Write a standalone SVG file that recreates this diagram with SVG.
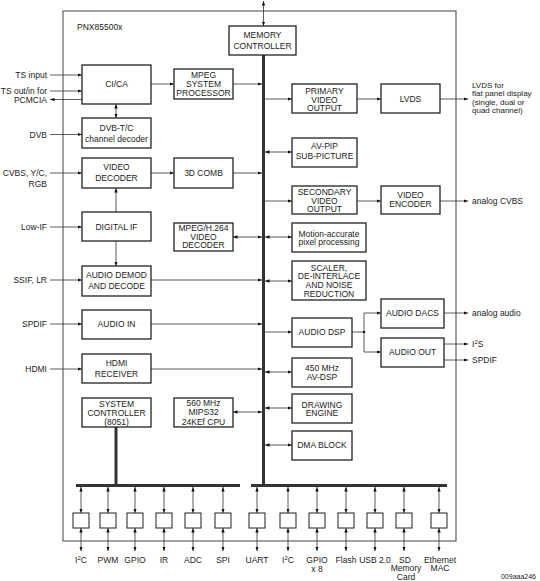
<svg xmlns="http://www.w3.org/2000/svg" width="540" height="581" viewBox="0 0 540 581">
<defs>
<marker id="ah" viewBox="0 0 8 6" refX="8" refY="3" markerWidth="4.5" markerHeight="3.4" markerUnits="userSpaceOnUse" orient="auto-start-reverse"><path d="M0,0 L8,3 L0,6 z" fill="#111"/></marker>
<style>
text{font-family:"Liberation Sans",Arial,sans-serif;font-size:8.5px;fill:#222}
.c{text-anchor:middle}
.e{text-anchor:end}
.b{fill:#fff;stroke:#222;stroke-width:1.3}
.pb{fill:#fff;stroke:#333;stroke-width:1.1}
.l{stroke:#333;stroke-width:0.8;fill:none}
.a{stroke:#333;stroke-width:0.8;fill:none;marker-end:url(#ah)}
.d{stroke:#333;stroke-width:0.8;fill:none;marker-start:url(#ah);marker-end:url(#ah)}
.bus{stroke:#333;stroke-width:3;fill:none}
</style>
</defs>
<rect x="63" y="11" width="393" height="530" fill="none" stroke="#555" stroke-width="1.1"/>
<text x="77" y="30">PNX85500x</text>

<g id="connectors">
<line class="d" x1="263.5" y1="1" x2="263.5" y2="26"/>
<line class="bus" x1="263.5" y1="55" x2="263.5" y2="487"/>
<line class="bus" x1="76" y1="485.5" x2="240" y2="485.5"/>
<line class="bus" x1="251" y1="485.5" x2="447" y2="485.5"/>
<line class="bus" x1="116" y1="427" x2="116" y2="485"/>
<!-- left inputs -->
<line class="a" x1="50" y1="75" x2="82" y2="75"/>
<line class="a" x1="50" y1="91" x2="82" y2="91"/>
<line class="a" x1="82" y1="99.5" x2="50" y2="99.5"/>
<line class="a" x1="50" y1="134.5" x2="82" y2="134.5"/>
<line class="a" x1="50" y1="173" x2="82" y2="173"/>
<line class="a" x1="50" y1="227" x2="82" y2="227"/>
<line class="a" x1="50" y1="280" x2="82" y2="280"/>
<line class="a" x1="50" y1="324" x2="82" y2="324"/>
<line class="a" x1="50" y1="369" x2="82" y2="369"/>
<!-- left internal -->
<line class="a" x1="151" y1="84" x2="174" y2="84"/>
<line class="a" x1="233" y1="84" x2="262" y2="84"/>
<line class="d" x1="116" y1="104" x2="116" y2="118"/>
<line class="a" x1="151" y1="173" x2="174" y2="173"/>
<line class="a" x1="233" y1="173" x2="262" y2="173"/>
<line class="a" x1="116" y1="212" x2="116" y2="188"/>
<line class="a" x1="116" y1="241" x2="116" y2="266"/>
<line class="d" x1="233" y1="237" x2="262" y2="237"/>
<line class="a" x1="151" y1="280" x2="262" y2="280"/>
<line class="a" x1="151" y1="324" x2="262" y2="324"/>
<line class="a" x1="151" y1="369" x2="262" y2="369"/>
<line class="d" x1="233" y1="412" x2="262" y2="412"/>
<!-- right -->
<line class="a" x1="265" y1="99" x2="292" y2="99"/>
<line class="a" x1="357" y1="99" x2="381" y2="99"/>
<line class="a" x1="440" y1="99" x2="468" y2="99"/>
<line class="d" x1="265" y1="152" x2="292" y2="152"/>
<line class="a" x1="265" y1="201" x2="292" y2="201"/>
<line class="a" x1="357" y1="201" x2="381" y2="201"/>
<line class="a" x1="440" y1="201" x2="468" y2="201"/>
<line class="d" x1="265" y1="237" x2="292" y2="237"/>
<line class="d" x1="265" y1="281" x2="292" y2="281"/>
<line class="a" x1="265" y1="332" x2="292" y2="332"/>
<line class="l" x1="352" y1="332" x2="364" y2="332"/>
<line class="l" x1="364" y1="313" x2="364" y2="352"/>
<circle cx="364" cy="332" r="1.2" fill="#111"/>
<line class="a" x1="364" y1="313" x2="381" y2="313"/>
<line class="a" x1="364" y1="352" x2="381" y2="352"/>
<line class="a" x1="444" y1="313" x2="468" y2="313"/>
<line class="a" x1="444" y1="344" x2="468" y2="344"/>
<line class="a" x1="444" y1="360" x2="468" y2="360"/>
<line class="d" x1="265" y1="372" x2="292" y2="372"/>
<line class="d" x1="265" y1="408" x2="292" y2="408"/>
<line class="d" x1="265" y1="445" x2="292" y2="445"/>
<!-- bottom peripherals -->
<g id="periph-arrows">
<line class="d" x1="81" y1="487" x2="81" y2="513"/><line class="d" x1="81" y1="528" x2="81" y2="551"/>
<line class="d" x1="108" y1="487" x2="108" y2="513"/><line class="d" x1="108" y1="528" x2="108" y2="551"/>
<line class="d" x1="135" y1="487" x2="135" y2="513"/><line class="d" x1="135" y1="528" x2="135" y2="551"/>
<line class="d" x1="164" y1="487" x2="164" y2="513"/><line class="d" x1="164" y1="528" x2="164" y2="551"/>
<line class="d" x1="193" y1="487" x2="193" y2="513"/><line class="d" x1="193" y1="528" x2="193" y2="551"/>
<line class="d" x1="223" y1="487" x2="223" y2="513"/><line class="d" x1="223" y1="528" x2="223" y2="551"/>
<line class="d" x1="257" y1="487" x2="257" y2="513"/><line class="d" x1="257" y1="528" x2="257" y2="551"/>
<line class="d" x1="288" y1="487" x2="288" y2="513"/><line class="d" x1="288" y1="528" x2="288" y2="551"/>
<line class="d" x1="317" y1="487" x2="317" y2="513"/><line class="d" x1="317" y1="528" x2="317" y2="551"/>
<line class="d" x1="346" y1="487" x2="346" y2="513"/><line class="d" x1="346" y1="528" x2="346" y2="551"/>
<line class="d" x1="375" y1="487" x2="375" y2="513"/><line class="d" x1="375" y1="528" x2="375" y2="551"/>
<line class="d" x1="404" y1="487" x2="404" y2="513"/><line class="d" x1="404" y1="528" x2="404" y2="551"/>
<line class="d" x1="439" y1="487" x2="439" y2="513"/><line class="d" x1="439" y1="528" x2="439" y2="551"/>
</g>
</g>

<!-- external labels -->
<text class="e" x="47" y="78">TS input</text>
<text class="e" x="47" y="94">TS out/in for</text>
<text class="e" x="47" y="102.5">PCMCIA</text>
<text class="e" x="47" y="138">DVB</text>
<text class="e" x="47" y="176">CVBS, Y/C,</text>
<text class="e" x="47" y="186.5">RGB</text>
<text class="e" x="47" y="230">Low-IF</text>
<text class="e" x="47" y="283">SSIF, LR</text>
<text class="e" x="47" y="327">SPDIF</text>
<text class="e" x="47" y="372">HDMI</text>
<g style="font-size:8px">
<text x="472" y="87.5" style="font-size:8px">LVDS for</text>
<text x="472" y="96" style="font-size:8px">flat panel display</text>
<text x="472" y="104.5" style="font-size:8px">(single, dual or</text>
<text x="472" y="113" style="font-size:8px">quad channel)</text>
</g>
<text x="472" y="204">analog CVBS</text>
<text x="472" y="316">analog audio</text>
<text x="472" y="347">I<tspan font-size="6" dy="-3">2</tspan><tspan dy="3">S</tspan></text>
<text x="472" y="363">SPDIF</text>

<g id="memctrl"><rect class="b" x="229" y="26" width="67" height="29"/><text class="c" x="262.5" y="38">MEMORY</text><text class="c" x="262.5" y="49">CONTROLLER</text></g>
<g id="cica"><rect class="b" x="82" y="65" width="69" height="39"/><text class="c" x="116.5" y="87">CI/CA</text></g>
<g id="dvb"><rect class="b" x="82" y="118" width="69" height="30"/><text class="c" x="116.5" y="131">DVB-T/C</text><text class="c" x="116.5" y="142">channel decoder</text></g>
<g id="viddec"><rect class="b" x="82" y="158" width="69" height="30"/><text class="c" x="116.5" y="170">VIDEO</text><text class="c" x="116.5" y="181">DECODER</text></g>
<g id="digif"><rect class="b" x="82" y="212" width="69" height="29"/><text class="c" x="116.5" y="230">DIGITAL IF</text></g>
<g id="audiodemod"><rect class="b" x="82" y="266" width="69" height="30"/><text class="c" x="116.5" y="278">AUDIO DEMOD</text><text class="c" x="116.5" y="289">AND DECODE</text></g>
<g id="audioin"><rect class="b" x="82" y="310" width="69" height="29"/><text class="c" x="116.5" y="327">AUDIO IN</text></g>
<g id="hdmi"><rect class="b" x="82" y="354" width="69" height="29"/><text class="c" x="116.5" y="366">HDMI</text><text class="c" x="116.5" y="377">RECEIVER</text></g>
<g id="sysctrl"><rect class="b" x="82" y="398" width="69" height="29"/><text class="c" x="116.5" y="407">SYSTEM</text><text class="c" x="116.5" y="416">CONTROLLER</text><text class="c" x="116.5" y="425">(8051)</text></g>

<g id="mpegsys"><rect class="b" x="174" y="69" width="59" height="30"/><text class="c" x="203.5" y="78">MPEG</text><text class="c" x="203.5" y="87">SYSTEM</text><text class="c" x="203.5" y="96">PROCESSOR</text></g>
<g id="comb"><rect class="b" x="174" y="158" width="59" height="30"/><text class="c" x="203.5" y="176">3D COMB</text></g>
<g id="h264"><rect class="b" x="174" y="223" width="59" height="28"/><text class="c" x="203.5" y="230.5">MPEG/H.264</text><text class="c" x="203.5" y="239.5">VIDEO</text><text class="c" x="203.5" y="248">DECODER</text></g>
<g id="cpu"><rect class="b" x="174" y="398" width="59" height="29"/><text class="c" x="203.5" y="405.5">560 MHz</text><text class="c" x="203.5" y="415">MIPS32</text><text class="c" x="203.5" y="424.5">24KEf CPU</text></g>

<g id="primary"><rect class="b" x="292" y="84" width="65" height="29"/><text class="c" x="324.5" y="94">PRIMARY</text><text class="c" x="324.5" y="102.5">VIDEO</text><text class="c" x="324.5" y="111">OUTPUT</text></g>
<g id="avpip"><rect class="b" x="292" y="138" width="65" height="29"/><text class="c" x="324.5" y="149">AV-PIP</text><text class="c" x="324.5" y="159">SUB-PICTURE</text></g>
<g id="secondary"><rect class="b" x="292" y="186" width="65" height="28"/><text class="c" x="324.5" y="195">SECONDARY</text><text class="c" x="324.5" y="203.5">VIDEO</text><text class="c" x="324.5" y="212">OUTPUT</text></g>
<g id="motion"><rect class="b" x="292" y="223" width="74" height="29"/><text class="c" x="329" y="236.5">Motion-accurate</text><text class="c" x="329" y="245">pixel processing</text></g>
<g id="scaler"><rect class="b" x="292" y="261" width="74" height="39"/><text class="c" x="329" y="270.5">SCALER,</text><text class="c" x="329" y="279">DE-INTERLACE</text><text class="c" x="329" y="288">AND NOISE</text><text class="c" x="329" y="296.5">REDUCTION</text></g>
<g id="audiodsp"><rect class="b" x="292" y="318" width="60" height="29"/><text class="c" x="322" y="335">AUDIO DSP</text></g>
<g id="avdsp"><rect class="b" x="292" y="358" width="60" height="29"/><text class="c" x="322" y="371">450 MHz</text><text class="c" x="322" y="379.5">AV-DSP</text></g>
<g id="drawing"><rect class="b" x="292" y="394" width="60" height="29"/><text class="c" x="322" y="407.5">DRAWING</text><text class="c" x="322" y="416">ENGINE</text></g>
<g id="dma"><rect class="b" x="292" y="431" width="60" height="29"/><text class="c" x="322" y="448">DMA BLOCK</text></g>

<g id="lvds"><rect class="b" x="381" y="84" width="59" height="29"/><text class="c" x="410.5" y="102">LVDS</text></g>
<g id="videnc"><rect class="b" x="381" y="186" width="59" height="28"/><text class="c" x="410.5" y="198">VIDEO</text><text class="c" x="410.5" y="207">ENCODER</text></g>
<g id="dacs"><rect class="b" x="381" y="299" width="63" height="29"/><text class="c" x="412.5" y="316">AUDIO DACS</text></g>
<g id="audioout"><rect class="b" x="381" y="338" width="63" height="29"/><text class="c" x="412.5" y="355">AUDIO OUT</text></g>

<g id="p-i2c1"><rect class="pb" x="73" y="513" width="16" height="15"/><text class="c" x="81" y="562.5">I<tspan font-size="6" dy="-3">2</tspan><tspan dy="3">C</tspan></text></g>
<g id="p-pwm"><rect class="pb" x="100" y="513" width="16" height="15"/><text class="c" x="108" y="562.5">PWM</text></g>
<g id="p-gpio"><rect class="pb" x="127" y="513" width="16" height="15"/><text class="c" x="135" y="562.5">GPIO</text></g>
<g id="p-ir"><rect class="pb" x="156" y="513" width="16" height="15"/><text class="c" x="164" y="562.5">IR</text></g>
<g id="p-adc"><rect class="pb" x="185" y="513" width="16" height="15"/><text class="c" x="193" y="562.5">ADC</text></g>
<g id="p-spi"><rect class="pb" x="215" y="513" width="16" height="15"/><text class="c" x="223" y="562.5">SPI</text></g>
<g id="p-uart"><rect class="pb" x="249" y="513" width="16" height="15"/><text class="c" x="257" y="562.5">UART</text></g>
<g id="p-i2c2"><rect class="pb" x="280" y="513" width="16" height="15"/><text class="c" x="288" y="562.5">I<tspan font-size="6" dy="-3">2</tspan><tspan dy="3">C</tspan></text></g>
<g id="p-gpio8"><rect class="pb" x="309" y="513" width="16" height="15"/><text class="c" x="317" y="562.5">GPIO</text><text class="c" x="317" y="571.5">x 8</text></g>
<g id="p-flash"><rect class="pb" x="338" y="513" width="16" height="15"/><text class="c" x="346" y="562.5">Flash</text></g>
<g id="p-usb"><rect class="pb" x="367" y="513" width="16" height="15"/><text class="c" x="375" y="562.5">USB 2.0</text></g>
<g id="p-sd"><rect class="pb" x="396" y="513" width="16" height="15"/><text class="c" x="405" y="562.5">SD</text><text class="c" x="406" y="571">Memory</text><text class="c" x="406" y="579.5">Card</text></g>
<g id="p-eth"><rect class="pb" x="431" y="513" width="16" height="15"/><text class="c" x="440" y="562.5">Ethernet</text><text class="c" x="440" y="571">MAC</text></g>

<text class="e" x="536" y="579" style="font-size:7px">009aaa246</text>
</svg>
